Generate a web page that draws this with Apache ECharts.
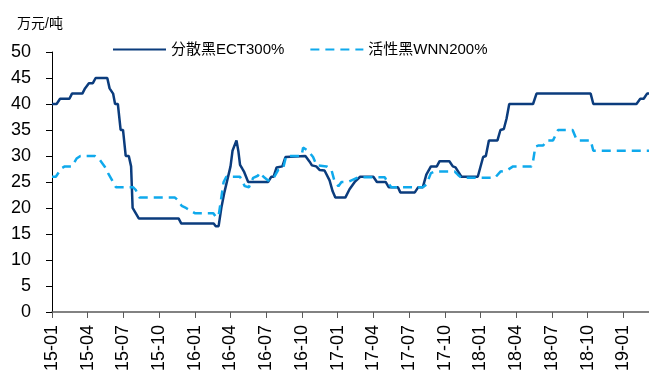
<!DOCTYPE html>
<html>
<head>
<meta charset="utf-8">
<script src="https://cdn.jsdelivr.net/npm/echarts@6/dist/echarts.min.js"></script>
<style>
html,body{margin:0;padding:0;background:#fff;}
#chart{width:649px;height:374px;}
</style>
</head>
<body>
<div id="chart"></div>
<script>
// Tick labels (quarterly)
const xTickLabels = ['15-01','15-04','15-07','15-10','16-01','16-04','16-07','16-10','17-01','17-04','17-07','17-10','18-01','18-04','18-07','18-10','19-01'];
const seriesNames = ['分散黑ECT300%', '活性黑WNN200%'];

// 分散黑ECT300%
const ectDates = ['2015-01-01','2015-01-13','2015-01-22','2015-02-14','2015-02-20','2015-03-18','2015-03-25','2015-03-30','2015-04-04','2015-04-14','2015-04-21','2015-05-21','2015-05-27','2015-06-05','2015-06-10','2015-06-17','2015-06-24','2015-06-30','2015-07-07','2015-07-15','2015-07-21','2015-07-25','2015-08-02','2015-08-10','2015-11-20','2015-11-27','2016-02-18','2016-02-23','2016-03-01','2016-03-08','2016-03-16','2016-03-24','2016-04-01','2016-04-06','2016-04-10','2016-04-16','2016-04-21','2016-04-25','2016-05-01','2016-05-05','2016-05-16','2016-07-06','2016-07-14','2016-07-20','2016-07-28','2016-08-12','2016-08-20','2016-08-24','2016-10-10','2016-10-21','2016-10-27','2016-11-07','2016-11-16','2016-11-28','2016-12-11','2016-12-19','2016-12-26','2017-01-21','2017-02-01','2017-02-14','2017-02-26','2017-04-01','2017-04-10','2017-05-02','2017-05-10','2017-06-03','2017-06-09','2017-07-16','2017-07-25','2017-08-06','2017-08-15','2017-08-27','2017-09-11','2017-09-18','2017-10-13','2017-10-22','2017-10-29','2017-11-13','2017-12-25','2018-01-08','2018-01-15','2018-01-23','2018-02-13','2018-02-20','2018-02-28','2018-03-07','2018-03-14','2018-05-14','2018-05-23','2018-10-09','2018-10-16','2019-02-04','2019-02-13','2019-02-21','2019-03-01','2019-03-06'];
const ectValues = [40,40,41,41,42,42,43,43,44,44,45,45,43,42,40,40,35,35,30,30,28,20,19,18,18,17,17,16.5,16.5,20,23,25.5,28,31,31.2,33,30.8,28.3,27.5,27,25,25,26,26,27.8,28,29.8,30,30,28.9,28.2,28,27.3,27.2,25.3,23.2,22,22,23.6,25.1,26,26,25,25,24,24,23,23,24,24,26.4,28,28,29,29,28,27.8,26,26,29.8,30,33,33,35,35.2,37.2,40,40,42,42,40,40,41,41,42,42];

// 活性黑WNN200%
const wnnDates = ['2015-01-01','2015-01-11','2015-01-25','2015-02-03','2015-02-20','2015-03-03','2015-03-13','2015-04-19','2015-05-02','2015-05-14','2015-05-23','2015-06-05','2015-06-12','2015-07-26','2015-08-02','2015-08-12','2015-11-11','2015-11-18','2015-11-28','2015-12-09','2016-01-01','2016-02-17','2016-02-24','2016-03-01','2016-03-08','2016-03-14','2016-03-21','2016-04-25','2016-05-07','2016-05-18','2016-05-29','2016-06-10','2016-06-15','2016-06-24','2016-07-06','2016-07-18','2016-08-01','2016-08-14','2016-08-22','2016-09-30','2016-10-04','2016-10-17','2016-10-30','2016-11-08','2016-12-03','2016-12-16','2016-12-24','2017-01-03','2017-01-11','2017-01-28','2017-02-22','2017-04-30','2017-05-08','2017-05-17','2017-08-06','2017-08-15','2017-08-27','2017-09-06','2017-10-27','2017-11-04','2017-11-13','2018-02-07','2018-02-20','2018-03-07','2018-03-24','2018-05-10','2018-05-14','2018-05-20','2018-05-27','2018-06-09','2018-06-18','2018-07-04','2018-07-17','2018-08-24','2018-09-04','2018-10-09','2018-10-16','2019-03-06'];
const wnnValues = [26,26,27.6,28,28,29.5,30,30,29.2,28,26.7,25,24,24,23.5,22,22,21.5,20.4,20,19,19,18.2,18.5,22,25,26,26,24.2,24,25.8,26.2,26.8,26,25.3,25.5,27.3,27.6,30,30,31.6,31,29.8,28.2,28,27.3,25.1,24.2,25,25,25.9,25.9,24.8,24,24,24.5,26.7,27,27,26.4,25.8,25.8,27,27.2,28,28,29,31.8,32,32,33,33,35,35,33,33,31,31];

function toMonth(s){
  const p = s.split('-').map(Number);
  const dim = new Date(p[0], p[1], 0).getDate();
  return (p[0]-2015)*12 + (p[1]-1) + (p[2]-1)/dim;
}
const xMax = toMonth('2019-03-06');

const FONT = '"Liberation Sans", Arial, "Noto Sans CJK SC", sans-serif';
const chart = echarts.init(document.getElementById('chart'), null, {renderer:'canvas'});
chart.setOption({
  animation:false,
  backgroundColor:'#fff',
  title:{text:'万元/吨', left:12, top:12, textStyle:{fontSize:14, fontWeight:'normal', color:'#000', fontFamily:FONT}},
  legend:{
    left:107, top:37, itemWidth:53, itemHeight:14, itemGap:25,
    itemStyle:{opacity:0},
    textStyle:{fontSize:15, color:'#000', fontFamily:FONT},
    data:seriesNames
  },
  grid:{left:52, right:0, top:52, bottom:58, containLabel:false},
  xAxis:{
    type:'value', min:0, max:xMax, interval:3,
    axisLine:{show:true, lineStyle:{color:'#595959', width:1.5}},
    axisTick:{show:true, length:6, lineStyle:{color:'#595959'}},
    splitLine:{show:false},
    axisLabel:{rotate:90, margin:13, fontSize:18, color:'#000', fontFamily:FONT, showMaxLabel:false,
      formatter:function(v){ const i = Math.round(v/3); return (Math.abs(v - i*3) < 1e-6 && xTickLabels[i]) ? xTickLabels[i] : ''; }}
  },
  yAxis:{
    type:'value', min:0, max:50, interval:5,
    axisLine:{show:true, lineStyle:{color:'#000', width:1}},
    axisTick:{show:true, length:6, lineStyle:{color:'#000'}},
    splitLine:{show:false},
    axisLabel:{margin:21, fontSize:18, color:'#000', fontFamily:FONT}
  },
  series:[
    {name:seriesNames[0], type:'line', symbol:'none', lineStyle:{color:'#0b3c7d', width:2.5}, itemStyle:{color:'#0b3c7d'},
     data:ectDates.map((d,i)=>[toMonth(d), ectValues[i]])},
    {name:seriesNames[1], type:'line', symbol:'none', lineStyle:{color:'#0fa9ec', width:2.5, type:[9,6]}, itemStyle:{color:'#0fa9ec'},
     data:wnnDates.map((d,i)=>[toMonth(d), wnnValues[i]])}
  ]
});
</script>
</body>
</html>
